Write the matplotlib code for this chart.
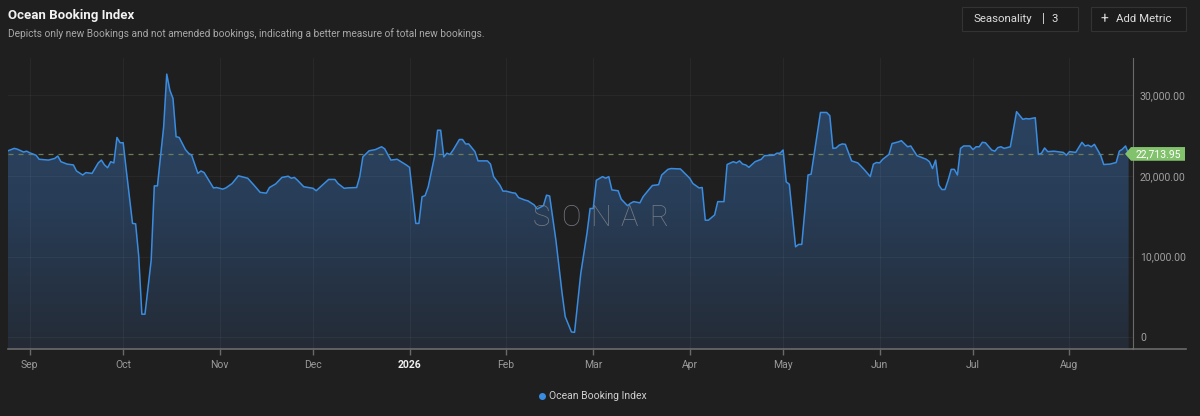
import matplotlib
matplotlib.use("Agg")
import matplotlib.pyplot as plt
import matplotlib.dates as mdates
import matplotlib.transforms as mtransforms
from matplotlib.colors import LinearSegmentedColormap
from matplotlib.patches import Polygon, Rectangle
from matplotlib.lines import Line2D
import numpy as np
import pandas as pd

plt.rcParams['font.family'] = ['Roboto', 'DejaVu Sans']

# ---- data ----
start = pd.Timestamp("2025-09-01")
# days counted from 2025-09-01
days = [-7, -5, -4, -2, -1, 0, 2, 3, 6, 8, 9, 10, 12, 14, 15, 17, 18, 20, 22, 23,
        24, 25, 26, 27, 28, 29, 30, 31, 33, 34, 35, 36, 37, 39, 40, 41, 43, 44, 45, 46,
        47, 48, 50, 51, 52, 54, 55, 56, 59, 60, 62, 63, 65, 67, 68, 70, 72, 74, 76, 77,
        79, 81, 83, 84, 85, 86, 88, 91, 92, 94, 96, 98, 99, 101, 102, 105, 106, 107, 109, 111,
        113, 114, 116, 118, 121, 122, 124, 125, 126, 127, 128, 130, 131, 132, 133, 134, 135, 136, 138, 139,
        140, 141, 143, 144, 147, 148, 149, 151, 152, 153, 155, 156, 157, 159, 160, 162, 163, 165, 166, 167,
        169, 171, 172, 174, 175, 177, 179, 180, 181, 182, 184, 185, 186, 187, 189, 190, 192, 193, 194, 196,
        197, 199, 200, 202, 203, 205, 206, 209, 212, 213, 215, 216, 217, 218, 220, 221, 223, 224, 226, 227,
        228, 229, 230, 231, 233, 235, 236, 239, 240, 241, 242, 243, 244, 246, 247, 248, 250, 251, 254, 256,
        257, 258, 259, 260, 261, 262, 264, 266, 267, 268, 270, 271, 272, 273, 274, 276, 277, 279, 280, 282,
        283, 285, 286, 288, 289, 290, 291, 292, 293, 294, 295, 296, 297, 298, 299, 300, 302, 303, 304, 305,
        306, 307, 309, 310, 311, 312, 313, 314, 315, 317, 319, 320, 321, 323, 324, 325, 326, 327, 329, 332,
        333, 334, 336, 338, 339, 340, 341, 342, 344, 345, 347, 349, 350, 351, 352, 353]
values = [23100, 23400, 23300, 22950, 23050, 22850, 22550, 22050, 21950, 22150, 22450, 21750, 21450, 21350, 20600, 20100, 20400, 20300, 21600, 21950,
          21350, 21000, 21750, 21600, 24750, 24100, 24100, 20700, 14100, 14050, 10000, 2850, 2850, 9550, 18750, 18750, 26050, 32600, 30600, 29600,
          24850, 24750, 23250, 22800, 22550, 20300, 20600, 20400, 18500, 18550, 18350, 18500, 19050, 20000, 19900, 19700, 18850, 17950, 17850, 18550,
          19000, 19800, 19950, 19700, 19800, 19450, 18650, 18450, 18150, 18850, 19550, 19550, 19050, 18450, 18500, 18550, 19900, 22350, 23100, 23250,
          23600, 23350, 21950, 22050, 21330, 21050, 14100, 14100, 17400, 17550, 18650, 22350, 25650, 25650, 22350, 22800, 22650, 23200, 24500, 24500,
          23950, 23950, 23000, 21850, 21850, 21450, 19900, 18850, 18100, 18100, 17900, 17850, 17300, 17000, 16900, 16400, 15900, 16300, 17600, 17500,
          12050, 5450, 2550, 650, 600, 7900, 12900, 15950, 15950, 19450, 19900, 19700, 19900, 18250, 18150, 17100, 16300, 16600, 16800, 16650,
          17400, 18350, 18800, 18900, 20100, 20800, 20900, 20850, 19700, 19050, 18500, 18550, 14500, 14500, 15150, 16800, 16800, 21400, 21750, 21600,
          21850, 21450, 21350, 21050, 21750, 22050, 22500, 22550, 22800, 22800, 23200, 19250, 18950, 11200, 11500, 11500, 20100, 20200, 27850, 27850,
          27450, 23400, 23450, 23800, 23950, 23900, 21850, 21600, 21200, 20800, 19900, 21450, 21650, 21600, 22050, 22650, 24000, 24200, 24350, 23600,
          23700, 22500, 22350, 22050, 21750, 20900, 21950, 18850, 18300, 18300, 19450, 20800, 20800, 20100, 23400, 23700, 23700, 23250, 23600, 23600,
          24150, 24100, 23200, 23050, 23500, 23600, 23400, 23500, 23600, 27950, 27000, 27100, 27050, 27200, 22650, 22800, 23450, 23000, 23050, 22900,
          22550, 23000, 22900, 24150, 23700, 23800, 23600, 23900, 22550, 21400, 21450, 21650, 23050, 23300, 23700, 22713.95]
last_value = 22713.95
month_labels = ["Sep", "Oct", "Nov", "Dec", "2026", "Feb", "Mar", "Apr", "May", "Jun", "Jul", "Aug"]
month_starts = pd.date_range("2025-09-01", periods=12, freq="MS")
yticks = [0, 10000, 20000, 30000]

title = "Ocean Booking Index"
subtitle = "Depicts only new Bookings and not amended bookings, indicating a better measure of total new bookings."

# ---- figure ----
BG = "#1f1f1f"
W, H = 1200, 416


def fx(px):
    return px / W


def fy(py):
    return 1 - py / H


fig = plt.figure(figsize=(12, 4.16), dpi=100, facecolor=BG)
ax = fig.add_axes([fx(8), fy(349.3), fx(1133) - fx(8), fy(58) - fy(349.3)])
ax.set_facecolor(BG)

x = mdates.date2num(start + pd.to_timedelta(days, unit="D"))
x0 = mdates.date2num(start) - 7.0
x1 = mdates.date2num(start) + 354.4
y_lo, y_hi = -1500, 34600

# gradient area under the line
fill = ax.fill_between(x, values, y_lo, facecolor="none", edgecolor="none")
grad = np.linspace(0, 1, 256).reshape(-1, 1)
cmap = LinearSegmentedColormap.from_list("obi", ["#242b36", "#283d57", "#2d4766"])
img = ax.imshow(grad, extent=[x0, x1, y_lo, y_hi], origin="lower", aspect="auto",
                cmap=cmap, zorder=1, interpolation="bilinear")
img.set_clip_path(fill.get_paths()[0], transform=ax.transData)

ax.plot(x, values, color="#3a8ce0", lw=1.1, zorder=3)
ax.axhline(last_value, color="#6d7b5c", lw=0.9, ls=(0, (4, 4)), zorder=2.6)

ax.set_xlim(x0, x1)
ax.set_ylim(y_lo, y_hi)

ax.set_xticks(mdates.date2num(month_starts))
ax.set_xticklabels(month_labels)
ax.yaxis.tick_right()
ax.set_yticks(yticks)
ax.set_yticklabels(["0" if v == 0 else f"{v:,.2f}" for v in yticks])

ax.set_axisbelow(False)
ax.grid(True, color="#ffffff", alpha=0.045, lw=0.8)
ax.tick_params(axis="x", colors="#6a6a6a", labelcolor="#9a9a9a", labelsize=7.5,
               length=4, width=1, pad=4)
ax.tick_params(axis="y", colors="#6a6a6a", labelcolor="#a0a0a0", labelsize=7.5,
               length=0, pad=5)
for lbl in ax.get_xticklabels():
    if lbl.get_text() == "2026":
        lbl.set_color("#f0f0f0")
        lbl.set_fontweight("bold")

for side in ["left", "top"]:
    ax.spines[side].set_visible(False)
ax.spines["right"].set_color("#6a6a6a")
ax.spines["bottom"].set_color("#6a6a6a")
ax.spines["bottom"].set_linewidth(1.2)
fig.add_artist(Line2D([fx(1133), fx(1186)], [fy(349.3), fy(349.3)], color="#6a6a6a", lw=1.2))

# last value tag
tr = mtransforms.blended_transform_factory(fig.transFigure, ax.transData)
half = 850
tag = Polygon([(fx(1125), last_value), (fx(1131), last_value + half), (fx(1185), last_value + half),
               (fx(1185), last_value - half), (fx(1131), last_value - half)],
              closed=True, transform=tr, facecolor="#82c26c", edgecolor="none", clip_on=False)
fig.add_artist(tag)
fig.text(fx(1158.5), 0, f"{last_value:,.2f}", transform=tr, color="white", fontsize=7.5,
         ha="center", va="center").set_y(last_value)

# watermark
for i, ch in enumerate("SONAR"):
    fig.text(fx(541 + i * 29.5), fy(217.5), ch, color="#7c8189", alpha=0.9, fontsize=21,
             family=["Roboto", "DejaVu Sans"], fontweight="light", ha="center", va="center")

# header
fig.text(fx(7.5), fy(15.7), title, color="#f2f2f2", fontsize=9.5, fontweight="bold", va="center")
fig.text(fx(7.5), fy(33.3), subtitle, color="#a8a8a8", fontsize=7.3, va="center")

fig.add_artist(Rectangle((fx(961.7), fy(30.7)), fx(1078.3) - fx(961.7), fy(6.7) - fy(30.7),
                         facecolor="#1c1c1c", edgecolor="#333333", lw=0.8))
fig.add_artist(Rectangle((fx(1090.7), fy(30.7)), fx(1185.7) - fx(1090.7), fy(6.7) - fy(30.7),
                         facecolor="#1c1c1c", edgecolor="#333333", lw=0.8))
fig.text(fx(973), fy(19), "Seasonality", color="#dcdcdc", fontsize=8.2, va="center")
fig.text(fx(1043.3), fy(19), "|", color="#dcdcdc", fontsize=9, va="center", ha="center")
fig.text(fx(1051), fy(19), "3", color="#dcdcdc", fontsize=8.2, va="center")
fig.text(fx(1104), fy(19), "+", color="#dcdcdc", fontsize=10, va="center", ha="center")
fig.text(fx(1116.5), fy(19), "Add Metric", color="#dcdcdc", fontsize=8.2, va="center")

# legend
fig.add_artist(Line2D([fx(542)], [fy(396)], marker="o", ms=4, color="#3a8ce0", lw=0))
fig.text(fx(549), fy(396), "Ocean Booking Index", color="#d0d0d0", fontsize=7.5, va="center")

fig.savefig("out.png", dpi=100, facecolor=BG)
